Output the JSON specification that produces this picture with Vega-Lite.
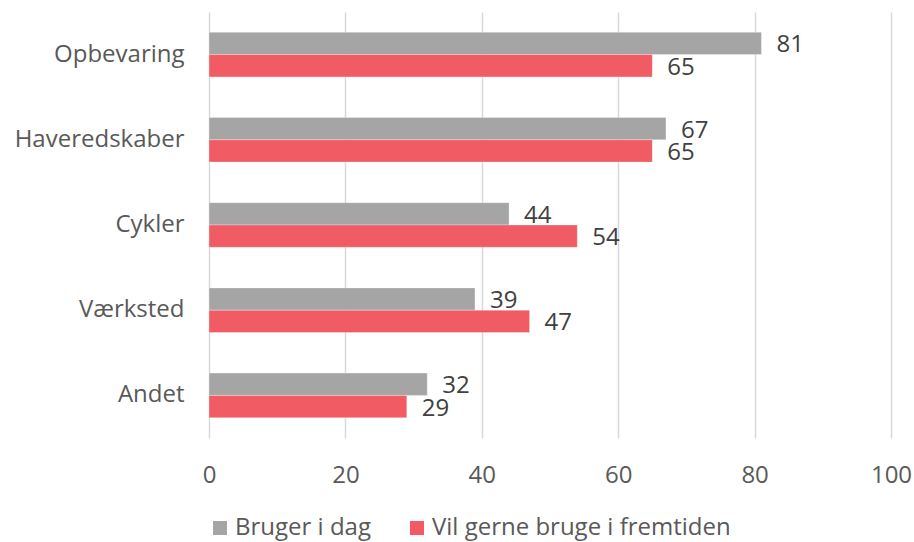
{
  "$schema": "https://vega.github.io/schema/vega-lite/v6.json",
  "width": 682,
  "height": 426,
  "autosize": {"type": "none"},
  "padding": {"left": 209, "top": 12, "right": 23, "bottom": 104},
  "background": "white",
  "config": {
    "view": {"stroke": null},
    "font": "Open Sans"
  },
  "data": {
    "values": [
      {"cat": "Opbevaring", "series": "Bruger i dag", "value": 81},
      {"cat": "Opbevaring", "series": "Vil gerne bruge i fremtiden", "value": 65},
      {"cat": "Haveredskaber", "series": "Bruger i dag", "value": 67},
      {"cat": "Haveredskaber", "series": "Vil gerne bruge i fremtiden", "value": 65},
      {"cat": "Cykler", "series": "Bruger i dag", "value": 44},
      {"cat": "Cykler", "series": "Vil gerne bruge i fremtiden", "value": 54},
      {"cat": "Værksted", "series": "Bruger i dag", "value": 39},
      {"cat": "Værksted", "series": "Vil gerne bruge i fremtiden", "value": 47},
      {"cat": "Andet", "series": "Bruger i dag", "value": 32},
      {"cat": "Andet", "series": "Vil gerne bruge i fremtiden", "value": 29}
    ]
  },
  "encoding": {
    "y": {
      "field": "cat",
      "type": "nominal",
      "sort": ["Opbevaring", "Haveredskaber", "Cykler", "Værksted", "Andet"],
      "scale": {"paddingInner": 0.477, "paddingOuter": 0.2385},
      "axis": {
        "title": null,
        "domain": false,
        "ticks": false,
        "grid": false,
        "labelFontSize": 24,
        "labelColor": "#595959",
        "labelPadding": 25,
        "labelFont": "Open Sans",
        "labelLimit": 300
      }
    },
    "yOffset": {
      "field": "series",
      "type": "nominal",
      "sort": ["Bruger i dag", "Vil gerne bruge i fremtiden"],
      "scale": {"paddingInner": 0, "paddingOuter": 0}
    },
    "x": {
      "field": "value",
      "type": "quantitative",
      "scale": {"domain": [0, 100], "nice": false},
      "axis": {
        "title": null,
        "domain": false,
        "ticks": false,
        "values": [0, 20, 40, 60, 80, 100],
        "grid": true,
        "gridColor": "#d9d9d9",
        "gridWidth": 1.5,
        "labelFontSize": 24,
        "labelColor": "#595959",
        "labelPadding": 25,
        "labelFont": "Open Sans",
        "labelFlush": false
      }
    }
  },
  "layer": [
    {
      "mark": {"type": "bar", "stroke": "#ffffff", "strokeWidth": 0.5, "strokeOpacity": 0.6},
      "encoding": {
        "color": {
          "field": "series",
          "type": "nominal",
          "sort": ["Bruger i dag", "Vil gerne bruge i fremtiden"],
          "scale": {"domain": ["Bruger i dag", "Vil gerne bruge i fremtiden"], "range": ["#A5A5A5", "#F05B64"]},
          "legend": {
            "title": null,
            "orient": "none",
            "direction": "horizontal",
            "legendX": -1,
            "legendY": 504,
            "symbolType": "square",
            "symbolSize": 196,
            "symbolStrokeWidth": 0,
            "labelFontSize": 24,
            "labelColor": "#595959",
            "labelFont": "Open Sans",
            "labelOffset": 3,
            "columnPadding": 34,
            "labelLimit": 500
          }
        }
      }
    },
    {
      "mark": {"type": "text", "align": "left", "baseline": "middle", "dx": 15, "dy": 2, "fontSize": 24, "color": "#404040", "font": "Open Sans"},
      "encoding": {
        "text": {"field": "value", "type": "quantitative"}
      }
    }
  ]
}
